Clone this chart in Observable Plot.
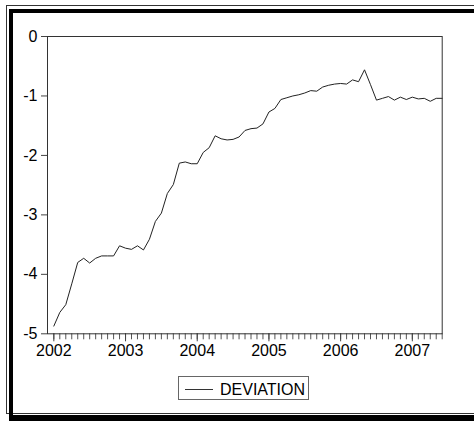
<!DOCTYPE html>
<html><head><meta charset="utf-8">
<script src="https://cdn.jsdelivr.net/npm/d3@7"></script>
<script src="https://cdn.jsdelivr.net/npm/@observablehq/plot@0.6"></script>
<style>
html,body{margin:0;padding:0;background:#fff;overflow:hidden;}
#wrap{position:relative;width:474px;height:421px;overflow:hidden;font-family:Arial,"Liberation Sans",sans-serif;}
.f1{position:absolute;left:6px;top:5px;width:600px;height:407px;border-left:1px solid #333;border-top:1px solid #333;border-bottom:1px solid #333;}
.f2{position:absolute;left:9px;top:9px;width:600px;height:402px;border-left:4px solid #000;border-top:4px solid #000;border-bottom:6px solid #000;}
#chart{position:absolute;left:0;top:0;}
.lg{position:absolute;left:178px;top:376px;width:129px;height:22px;border:1px solid #666;background:#fff;}
.lgline{position:absolute;left:185px;top:389px;width:28px;height:1px;background:#333;}
.lgtext{position:absolute;left:220px;top:382px;font-size:16px;line-height:16px;color:#000;white-space:nowrap;}
</style>
</head><body>
<div id="wrap">
  <div class="f1"></div>
  <div class="f2"></div>
  <div id="chart"></div>
  <div class="lg"></div>
  <div class="lgline"></div>
  <div class="lgtext" id="lgtext"></div>
</div>
<script>
const seriesName = "DEVIATION";
const startYear = 2002; // first observation: 2002M01, monthly
const deviation = [
  -4.87, -4.64, -4.51, -4.16, -3.80, -3.73, -3.81, -3.73, -3.69, -3.69, -3.69, -3.52,
  -3.56, -3.58, -3.52, -3.59, -3.41, -3.11, -2.97, -2.64, -2.49, -2.13, -2.11, -2.14,
  -2.14, -1.95, -1.87, -1.67, -1.72, -1.74, -1.73, -1.69, -1.58, -1.55, -1.54, -1.47,
  -1.27, -1.21, -1.06, -1.03, -1.00, -0.98, -0.95, -0.91, -0.92, -0.85, -0.82, -0.80,
  -0.79, -0.80, -0.73, -0.76, -0.56, -0.81, -1.07, -1.04, -1.01, -1.07, -1.02, -1.06,
  -1.02, -1.05, -1.04, -1.09, -1.04, -1.04
];
const yearTicks = [2002, 2003, 2004, 2005, 2006, 2007];
const yTicks = [0, -1, -2, -3, -4, -5];

const data = deviation.map((v, i) => ({t: startYear + i / 12, v}));
const monthTicks = data.map(d => d.t);

const chart = Plot.plot({
  width: 474,
  height: 421,
  marginLeft: 47,
  marginRight: 32.3,
  marginTop: 36,
  marginBottom: 87.7,
  style: {fontFamily: "Arial, 'Liberation Sans', sans-serif", fontSize: "16px", background: "transparent", color: "#000"},
  x: {domain: [startYear - 1.06 / 12, data[data.length - 1].t]},
  y: {domain: [-5, 0]},
  marks: [
    Plot.axisY({ticks: yTicks, tickSize: 6, tickPadding: 4, tickFormat: d => String(d), label: null, stroke: "#444", fontSize: 16}),
    Plot.axisX({ticks: monthTicks, tickSize: 6, tickFormat: () => "", label: null, stroke: "#555"}),
    Plot.axisX({ticks: yearTicks, tickSize: 8, tickPadding: 3, tickFormat: d => String(d), label: null, stroke: "#444", fontSize: 16}),
    Plot.lineY(data, {x: "t", y: "v", stroke: "#222", strokeWidth: 1}),
    Plot.frame({stroke: "#333"})
  ]
});
document.getElementById("chart").appendChild(chart);
document.getElementById("lgtext").textContent = seriesName;
</script>
</body></html>
